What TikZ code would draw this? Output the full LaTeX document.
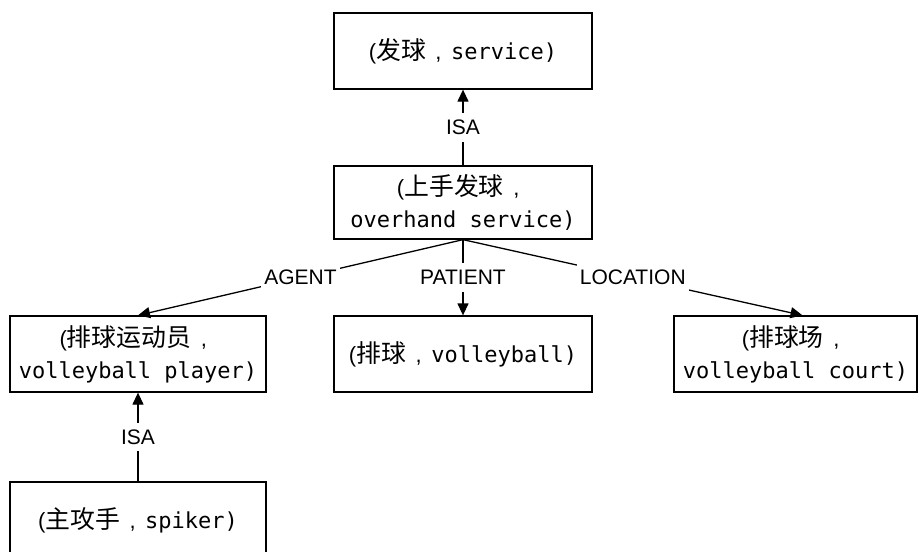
\documentclass[tikz,border=0pt]{standalone}
\usepackage{fontspec}
\setmainfont{Liberation Sans}
\setsansfont{Liberation Sans}
\setmonofont{DejaVu Sans Mono}
\newfontfamily\cjk[Scale=1.13]{Noto Sans CJK SC}
\usetikzlibrary{arrows.meta}
\newcommand{\cmma}{\makebox[1.15em]{\sffamily ,}}
\begin{document}
\begin{tikzpicture}[x=1pt,y=-1pt,
  box/.style={draw, line width=1.3pt, minimum width=258pt, minimum height=76pt,
    align=center, inner sep=0pt, font=\fontsize{22}{32}\selectfont},
  lab/.style={fill=white, font=\fontsize{21}{24}\selectfont\sffamily,
    inner xsep=3pt, inner ysep=7pt},
  conn/.style={line width=1.3pt},
  arr/.style={conn, -{Triangle[length=12pt,width=11pt]}}]
\clip (0,0) rectangle (920,551);
\fill[white] (0,0) rectangle (920,551);
\node[box] (fa) at (463,51) {{\sffamily(}{\cjk 发球}\cmma{\ttfamily service)}};
\node[box, minimum height=73pt] (oh) at (463,202.5) {{\sffamily(}{\cjk 上手发球}\cmma\\{\ttfamily overhand service)}};
\node[box, minimum width=256pt] (vp) at (138,354) {{\sffamily(}{\cjk 排球运动员}\cmma\\{\ttfamily volleyball player)}};
\node[box] (vb) at (463,354) {{\sffamily(}{\cjk 排球}\cmma{\ttfamily volleyball)}};
\node[box, minimum width=243pt] (ct) at (795.5,354) {{\sffamily(}{\cjk 排球场}\cmma\\{\ttfamily volleyball court)}};
\node[box, minimum width=256pt] (sp) at (138,520) {{\sffamily(}{\cjk 主攻手}\cmma{\ttfamily spiker)}};
\draw[arr] (oh) -- node[lab]{ISA} (fa);
\draw[arr] (oh.south) -- node[lab]{AGENT} (vp.north);
\draw[arr] (oh.south) -- node[lab]{PATIENT} (vb.north);
\draw[arr] (oh.south) -- node[lab]{LOCATION} ([xshift=7pt]ct.north);
\draw[arr] (sp) -- node[lab]{ISA} (vp);
\end{tikzpicture}
\end{document}
